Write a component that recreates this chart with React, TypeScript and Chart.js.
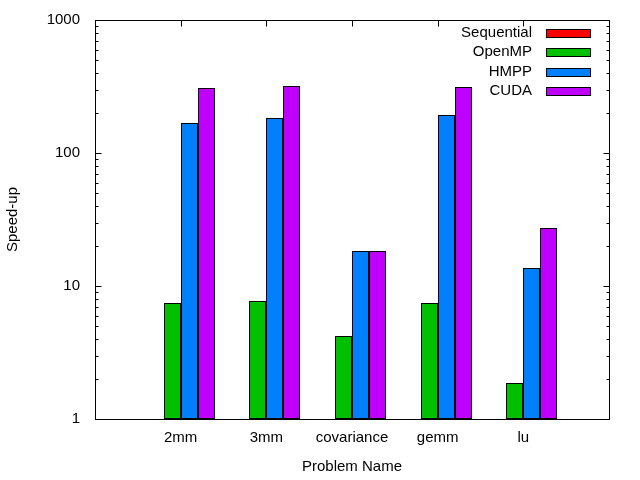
import { useEffect, useRef } from "react"
import { Chart, type ChartConfiguration, type Plugin, registerables } from "chart.js"

Chart.register(...registerables)

// problem names, padded with blanks so the x range runs from -1 to 5 like gnuplot
const problems = ["2mm", "3mm", "covariance", "gemm", "lu"]
const xLabels = ["", ...problems, ""]

const sequential = [1, 1, 1, 1, 1]
const openmp = [7.45, 7.7, 4.2, 7.45, 1.87]
const hmpp = [168, 183, 18.3, 193, 13.7]
const cuda = [308, 319, 18.3, 313, 27.3]

const yTicks = [1, 10, 100, 1000]

const FONT = "'Liberation Sans', Arial, sans-serif"

const pad = (vals: number[]) => [null, ...vals, null]

// snap bars to whole pixels so the black outlines stay crisp
const snapPlugin: Plugin = {
  id: "snap",
  beforeDatasetsDraw(chart) {
    chart.getSortedVisibleDatasetMetas().forEach((meta) => {
      meta.data.forEach((el: any) => {
        if (el.x == null || isNaN(el.x)) return
        const w = Math.round(el.width)
        const l = Math.round(el.x - el.width / 2)
        el.x = l + w / 2
        el.width = w
        el.y = Math.round(el.y)
        el.base = Math.round(el.base)
      })
    })
  },
}

// gnuplot style frame, inside ticks and key
const framePlugin: Plugin = {
  id: "frame",
  afterDraw(chart) {
    const { ctx, chartArea } = chart
    const { left, right, top, bottom } = chartArea
    const y = chart.scales.y
    const x = chart.scales.x
    ctx.save()
    ctx.strokeStyle = "#000"
    ctx.lineWidth = 1
    ctx.beginPath()
    const line = (x1: number, y1: number, x2: number, y2: number) => {
      ctx.moveTo(Math.round(x1) + 0.5, Math.round(y1) + 0.5)
      ctx.lineTo(Math.round(x2) + 0.5, Math.round(y2) + 0.5)
    }
    // major y ticks
    yTicks.forEach((v) => {
      const py = y.getPixelForValue(v)
      line(left, py, left + 6, py)
      line(right, py, right - 6, py)
    })
    // minor y ticks
    yTicks.slice(0, -1).forEach((d) => {
      for (let m = 2; m < 10; m++) {
        const py = y.getPixelForValue(d * m)
        line(left, py, left + 3, py)
        line(right, py, right - 3, py)
      }
    })
    // x ticks at each problem
    problems.forEach((_, i) => {
      const px = x.getPixelForValue(i + 1)
      line(px, top, px, top + 6)
      line(px, bottom, px, bottom - 6)
    })
    ctx.stroke()
    ctx.strokeRect(Math.round(left) + 0.5, Math.round(top) + 0.5, Math.round(right - left), Math.round(bottom - top))

    // key
    ctx.font = `15px ${FONT}`
    ctx.textAlign = "right"
    ctx.textBaseline = "middle"
    chart.data.datasets.forEach((ds, i) => {
      const cy = top + 13 + i * 19.3
      ctx.fillStyle = "#000"
      ctx.fillText(String(ds.label), right - 77, cy)
      ctx.fillStyle = String(ds.backgroundColor)
      ctx.fillRect(right - 63, Math.round(cy - 4), 44, 8)
      ctx.strokeRect(right - 63 + 0.5, Math.round(cy - 4) + 0.5, 44, 8)
    })
    ctx.restore()
  },
}

export default function App() {
  const chartRef = useRef<HTMLCanvasElement>(null)
  const chartInstance = useRef<Chart | null>(null)

  useEffect(() => {
    document.body.style.margin = "0"
    if (!chartRef.current) return
    if (chartInstance.current) chartInstance.current.destroy()
    const ctx = chartRef.current.getContext("2d")
    if (!ctx) return

    const bar = (label: string, data: number[], color: string) => ({
      label,
      data: pad(data),
      backgroundColor: color,
      borderColor: "#000",
      borderWidth: 1,
      borderSkipped: false as const,
      categoryPercentage: 0.8,
      barPercentage: 1,
    })

    const config: ChartConfiguration = {
      type: "bar",
      data: {
        labels: xLabels,
        datasets: [
          bar("Sequential", sequential, "#ff0000"),
          bar("OpenMP", openmp, "#00c000"),
          bar("HMPP", hmpp, "#0080ff"),
          bar("CUDA", cuda, "#c000ff"),
        ] as any,
      },
      options: {
        responsive: true,
        maintainAspectRatio: false,
        animation: false,
        layout: { padding: { top: 20, right: 31, left: 0, bottom: 0 } },
        plugins: {
          legend: { display: false },
          tooltip: { enabled: false },
        },
        scales: {
          x: {
            type: "category",
            offset: false,
            grid: { display: false, drawTicks: false },
            border: { display: false },
            ticks: {
              padding: 10,
              autoSkip: false,
              maxRotation: 0,
              color: "#000",
              font: { family: FONT, size: 15 },
            },
            title: {
              display: true,
              text: "Problem Name",
              color: "#000",
              font: { family: FONT, size: 15 },
            },
            afterFit: (scale) => {
              scale.height = 61
            },
          },
          y: {
            type: "logarithmic",
            min: 1,
            max: 1000,
            grid: { display: false, drawTicks: false },
            border: { display: false },
            afterBuildTicks: (scale) => {
              scale.ticks = yTicks.map((v) => ({ value: v, major: true }))
            },
            ticks: {
              padding: 15,
              color: "#000",
              font: { family: FONT, size: 15 },
              callback: (v) => String(v),
            },
            title: {
              display: true,
              text: "Speed-up",
              color: "#000",
              font: { family: FONT, size: 15 },
            },
            afterFit: (scale: any) => {
              scale.width = 95
              scale.paddingTop = 0
              scale.paddingBottom = 0
            },
          },
        },
      },
      plugins: [snapPlugin, framePlugin],
    }

    chartInstance.current = new Chart(ctx, config)
    return () => {
      if (chartInstance.current) chartInstance.current.destroy()
    }
  }, [])

  return (
    <div style={{ position: "relative", width: 640, height: 480 }}>
      <canvas ref={chartRef} />
    </div>
  )
}
